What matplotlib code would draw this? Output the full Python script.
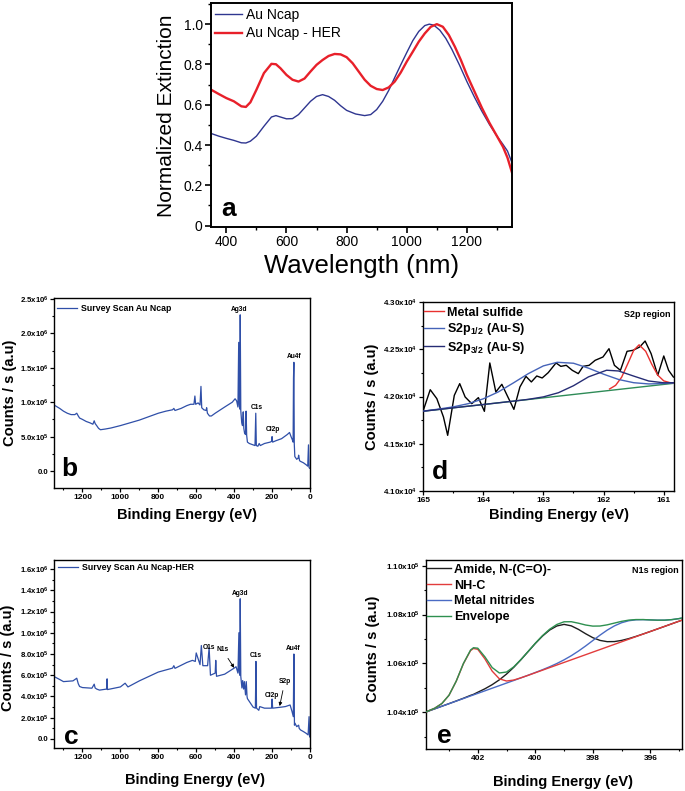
import matplotlib
matplotlib.use('Agg')
import matplotlib.pyplot as plt
from matplotlib.ticker import MultipleLocator
import numpy as np

plt.rcParams['font.family'] = ['Liberation Sans', 'DejaVu Sans']
plt.rcParams['mathtext.fontset'] = 'custom'
plt.rcParams['mathtext.rm'] = 'Liberation Sans:bold'
plt.rcParams['mathtext.it'] = 'Liberation Sans:bold'
plt.rcParams['mathtext.bf'] = 'Liberation Sans:bold'
plt.rcParams['mathtext.default'] = 'rm'

# ---------------- Panel a: extinction spectra ----------------
wl_ncap = [350, 375, 400, 425, 450, 465, 480, 500, 525, 550, 565, 580, 600, 620, 640, 660, 680, 700,
           720, 740, 760, 780, 800, 830, 860, 880, 900, 920, 940, 960, 980, 1000, 1020, 1040, 1060,
           1075, 1090, 1110, 1130, 1150, 1175, 1200, 1225, 1250, 1275, 1300, 1320, 1335, 1350]
ext_ncap = [0.457, 0.444, 0.433, 0.423, 0.411, 0.410, 0.419, 0.444, 0.493, 0.539, 0.546, 0.539, 0.530,
            0.531, 0.551, 0.584, 0.617, 0.641, 0.650, 0.641, 0.622, 0.595, 0.572, 0.554, 0.546, 0.551,
            0.576, 0.617, 0.671, 0.735, 0.798, 0.859, 0.918, 0.964, 0.993, 1.000, 0.995, 0.970, 0.929,
            0.875, 0.798, 0.715, 0.638, 0.567, 0.502, 0.444, 0.403, 0.370, 0.312]
wl_her = [350, 375, 400, 425, 450, 465, 480, 500, 525, 550, 565, 580, 600, 620, 640, 660, 680, 700,
          720, 740, 760, 780, 800, 820, 840, 860, 880, 900, 920, 940, 960, 980, 1000, 1020, 1040,
          1060, 1080, 1100, 1120, 1140, 1160, 1180, 1200, 1225, 1250, 1275, 1300, 1320, 1335, 1350]
ext_her = [0.674, 0.653, 0.633, 0.617, 0.592, 0.589, 0.612, 0.674, 0.757, 0.803, 0.801, 0.781, 0.748,
           0.724, 0.715, 0.730, 0.765, 0.798, 0.822, 0.842, 0.852, 0.850, 0.836, 0.806, 0.765, 0.724,
           0.694, 0.678, 0.673, 0.686, 0.715, 0.760, 0.814, 0.863, 0.913, 0.954, 0.987, 1.000, 0.987,
           0.946, 0.888, 0.822, 0.748, 0.666, 0.584, 0.510, 0.444, 0.391, 0.337, 0.263]
a_xticks = [400, 600, 800, 1000, 1200]
a_yticks = [0, 0.2, 0.4, 0.6, 0.8, 1.0]
a_ylabels = ['0', '0.2', '0.4', '0.6', '0.8', '1.0']

# ---------------- Panel b: survey scan Au Ncap (counts in 1e6) ----------------
be_b = [1350, 1320, 1300, 1280, 1260, 1240, 1230, 1222, 1215, 1200, 1180, 1160, 1145, 1138, 1133, 1125,
        1115, 1105, 1080, 1050, 1000, 950, 900, 850, 800, 760, 725, 718, 712, 680, 650, 630, 612, 607,
        603, 590, 580, 575, 571, 560, 548, 545, 541, 530, 520, 500, 450, 410, 395, 387, 380, 376, 373,
        370, 368, 365, 360, 356, 352, 349, 345, 340, 337, 334, 330, 320, 300, 290, 286, 283, 275, 268,
        262, 240, 210, 203, 200, 197, 180, 150, 120, 108, 100, 94, 89, 87, 85, 83, 80, 70, 62, 60, 55,
        50, 35, 20, 12, 8, 5, 2]
cts_b = [0.96, 0.91, 0.87, 0.84, 0.82, 0.82, 0.84, 0.80, 0.77, 0.75, 0.72, 0.70, 0.68, 0.73, 0.69, 0.66,
         0.62, 0.60, 0.61, 0.625, 0.66, 0.70, 0.74, 0.79, 0.84, 0.87, 0.89, 0.91, 0.88, 0.91, 0.95, 0.97,
         0.97, 1.09, 0.97, 0.99, 0.96, 1.23, 0.92, 0.89, 0.88, 0.92, 0.84, 0.80, 0.80, 0.84, 0.93, 1.00,
         1.05, 1.02, 0.93, 1.87, 0.97, 0.90, 2.27, 0.88, 0.70, 0.66, 0.86, 0.62, 0.55, 0.53, 0.87, 0.52,
         0.42, 0.40, 0.38, 0.37, 0.84, 0.37, 0.36, 0.40, 0.37, 0.40, 0.42, 0.43, 0.50, 0.42, 0.44, 0.47,
         0.53, 0.56, 0.50, 0.46, 0.42, 1.35, 1.58, 0.40, 0.21, 0.17, 0.19, 0.23, 0.15, 0.14, 0.12, 0.09,
         0.07, 0.38, 0.05, 0.04]
b_yticks = [0.0, 0.5, 1.0, 1.5, 2.0, 2.5]
b_ylabels = ['0.0', '5.0x10$^{5}$', '1.0x10$^{6}$', '1.5x10$^{6}$', '2.0x10$^{6}$', '2.5x10$^{6}$']
b_peaks = ['Ag3d', 'C1s', 'Cl2p', 'Au4f']
b_peak_pos = [(373, 2.35), (278, 0.92), (193, 0.60), (81, 1.67)]

# ---------------- Panel c: survey scan Au Ncap-HER (counts in 1e6) ----------------
be_c = [1350, 1320, 1300, 1250, 1230, 1222, 1215, 1200, 1150, 1138, 1133, 1125, 1110, 1072, 1070, 1068,
        1000, 975, 960, 900, 800, 725, 718, 712, 650, 620, 605, 600, 580, 573, 565, 540, 532, 525, 500,
        497, 493, 450, 400, 390, 380, 375, 373, 370, 368, 365, 359, 355, 350, 346, 340, 336, 332, 330,
        300, 288, 285, 282, 270, 265, 240, 203, 200, 197, 150, 130, 105, 95, 88, 85, 82, 80, 70, 60, 57,
        50, 35, 20, 10, 5, 2]
cts_c = [0.588, 0.56, 0.54, 0.547, 0.572, 0.52, 0.494, 0.484, 0.478, 0.516, 0.48, 0.47, 0.46, 0.47, 0.566,
         0.465, 0.49, 0.525, 0.49, 0.547, 0.63, 0.667, 0.69, 0.665, 0.72, 0.74, 0.73, 0.81, 0.70, 0.88,
         0.69, 0.69, 0.86, 0.60, 0.62, 0.74, 0.59, 0.61, 0.667, 0.68, 0.62, 1.00, 0.64, 0.60, 1.32, 0.59,
         0.48, 0.55, 0.47, 0.54, 0.415, 0.54, 0.40, 0.38, 0.30, 0.29, 0.73, 0.29, 0.27, 0.305, 0.29, 0.29,
         0.376, 0.29, 0.30, 0.305, 0.32, 0.26, 0.21, 0.80, 0.13, 0.15, 0.116, 0.13, 0.10, 0.085, 0.07,
         0.053, 0.038, 0.21, 0.02]
c_yticks = [0.0, 0.2, 0.4, 0.6, 0.8, 1.0, 1.2, 1.4, 1.6]
c_ylabels = ['0.0', '2.0x10$^{5}$', '4.0x10$^{5}$', '6.0x10$^{5}$', '8.0x10$^{5}$', '1.0x10$^{6}$',
             '1.2x10$^{6}$', '1.4x10$^{6}$', '1.6x10$^{6}$']
c_peaks = ['O1s', 'Ag3d', 'C1s', 'Cl2p', 'Au4f']
c_peak_pos = [(532, 0.86), (368, 1.37), (285, 0.79), (200, 0.41), (88, 0.85)]

# ---------------- Panel d: S2p region ----------------
be_d = [165.00, 164.88, 164.77, 164.66, 164.59, 164.48, 164.39, 164.30, 164.19, 164.08, 163.98, 163.89,
        163.79, 163.69, 163.59, 163.49, 163.39, 163.29, 163.20, 163.11, 163.02, 162.92, 162.79, 162.71,
        162.62, 162.52, 162.42, 162.34, 162.24, 162.14, 162.01, 161.91, 161.82, 161.72, 161.61, 161.51,
        161.40, 161.31, 161.21, 161.10, 161.00, 160.92, 160.84]
cts_d = [41843, 42072, 41977, 41783, 41589, 42012, 42136, 41995, 41924, 41988, 41843, 42355, 42048, 42129,
         41995, 41864, 42101, 42213, 42154, 42217, 42196, 42252, 42355, 42319, 42330, 42277, 42242, 42319,
         42330, 42383, 42418, 42506, 42330, 42277, 42478, 42489, 42524, 42587, 42453, 42224, 42429, 42277,
         42206]
be_d_base = [165.0, 160.83]
cts_d_base = [41844, 42140]
be_d_fit = [165.0, 164.75, 164.5, 164.25, 164.0, 163.75, 163.5, 163.25, 163.0, 162.77, 162.5, 162.25,
            162.0, 161.75, 161.5, 161.25, 161.0, 160.83]
cts_s2p12 = [41845, 41866, 41890, 41924, 41975, 42048, 42143, 42242, 42324, 42362, 42352, 42300, 42236,
             42180, 42146, 42133, 42137, 42144]
be_d_fit2 = [165.0, 164.5, 164.0, 163.5, 163.25, 163.0, 162.75, 162.5, 162.25, 161.95, 161.75, 161.5,
             161.25, 161.0, 160.83]
cts_s2p32 = [41844, 41880, 41915, 41951, 41970, 41996, 42040, 42114, 42208, 42278, 42270, 42216, 42164,
             42145, 42146]
be_d_sulf = [161.9, 161.8, 161.7, 161.6, 161.5, 161.41, 161.3, 161.2, 161.1, 161.0, 160.9, 160.83]
cts_sulf = [42080, 42118, 42204, 42344, 42488, 42547, 42478, 42342, 42226, 42165, 42147, 42143]
d_yticks = [41000, 41500, 42000, 42500, 43000]
d_ylabels = ['4.10x10$^{4}$', '4.15x10$^{4}$', '4.20x10$^{4}$', '4.25x10$^{4}$', '4.30x10$^{4}$']
d_xticks = [165, 164, 163, 162, 161]

# ---------------- Panel e: N1s region ----------------
be_e = [403.78, 403.5, 403.25, 403.0, 402.75, 402.5, 402.25, 402.15, 402.0, 401.75, 401.5, 401.25, 401.0,
        400.75, 400.5, 400.25, 400.0, 399.75, 399.5, 399.25, 399.0, 398.75, 398.5, 398.25, 398.0, 397.75,
        397.5, 397.25, 397.0, 396.75, 396.5, 396.25, 396.0, 395.75, 395.5, 395.25, 395.0, 394.9]
cts_envelope = [104028, 104167, 104358, 104700, 105275, 105997, 106550, 106642, 106623, 106266, 105831,
                105609, 105648, 105859, 106157, 106488, 106825, 107137, 107400, 107594, 107703, 107706,
                107645, 107571, 107526, 107530, 107578, 107650, 107721, 107771, 107794, 107794, 107780,
                107769, 107770, 107792, 107834, 107856]
cts_amide = [104024, 104142, 104249, 104355, 104464, 104575, 104694, 104734, 104821, 104964, 105131,
             105329, 105565, 105840, 106152, 106484, 106816, 107119, 107366, 107532, 107597, 107537,
             107392, 107214, 107053, 106941, 106890, 106894, 106941, 107015, 107106, 107205, 107307,
             107412, 107517, 107623, 107728, 107770]
cts_nitride = [104024, 104142, 104248, 104353, 104459, 104564, 104670, 104712, 104775, 104880, 104986,
               105091, 105197, 105302, 105410, 105517, 105628, 105742, 105864, 105997, 106147, 106315,
               106505, 106714, 106936, 107157, 107362, 107535, 107665, 107746, 107784, 107790, 107779,
               107769, 107770, 107792, 107834, 107856]
cts_nhc = [104028, 104167, 104357, 104698, 105270, 105986, 106526, 106612, 106577, 106182, 105686,
           105371, 105280, 105320, 105411, 105513, 105619, 105724, 105830, 105935, 106041, 106146,
           106252, 106357, 106463, 106568, 106674, 106779, 106885, 106990, 107096, 107201, 107306,
           107412, 107517, 107623, 107728, 107770]
e_yticks = [104000, 106000, 108000, 110000]
e_ylabels = ['1.04x10$^{5}$', '1.06x10$^{5}$', '1.08x10$^{5}$', '1.10x10$^{5}$']
e_xticks = [402, 400, 398, 396]

W, H = 685, 791
fig = plt.figure(figsize=(W / 100, H / 100), dpi=100)


def ax_px(l, t, r, b):
    return fig.add_axes([l / W, 1 - b / H, (r - l) / W, (b - t) / H])


def style_xps(ax, lw=1.0, ysize=5.6):
    for s in ax.spines.values():
        s.set_linewidth(lw)
    ax.tick_params(which='major', direction='out', length=3, width=0.9, labelsize=6.0, pad=1.5)
    ax.tick_params(axis='y', which='major', labelsize=ysize, pad=1.2)
    ax.tick_params(which='minor', direction='out', length=1.6, width=0.8)
    for lab in ax.get_xticklabels() + ax.get_yticklabels():
        lab.set_fontweight('bold')


# ---- a ----
axa = ax_px(211, 3, 512, 227)
axa.plot(wl_ncap, ext_ncap, color='#2f3690', lw=1.0, label='Au Ncap')
axa.plot(wl_her, ext_her, color='#e8202a', lw=1.7, label='Au Ncap - HER')
axa.set_xlim(349, 1350)
axa.set_ylim(-0.007, 1.105)
axa.set_xticks(a_xticks)
axa.xaxis.set_minor_locator(MultipleLocator(100))
axa.set_yticks(a_yticks)
axa.set_yticklabels(a_ylabels)
axa.yaxis.set_minor_locator(MultipleLocator(0.1))
for s in axa.spines.values():
    s.set_linewidth(1.4)
axa.tick_params(which='major', direction='out', length=4, width=1.2, labelsize=10, pad=2)
axa.tick_params(which='minor', direction='out', length=2.5, width=1.0)
axa.legend(loc='upper left', bbox_to_anchor=(0.0, 0.995), frameon=False, fontsize=10,
           handlelength=1.9, handletextpad=0.35, labelspacing=0.3, borderpad=0.2, borderaxespad=0.1)
axa.text(0.058, 0.08, 'a', transform=axa.transAxes, fontsize=19, fontweight='bold',
         ha='center', va='center')
axa.text(0.5, -0.175, 'Wavelength (nm)', transform=axa.transAxes, fontsize=18.5,
         ha='center', va='center')
axa.text(-0.148, 0.495, 'Normalized Extinction', transform=axa.transAxes, fontsize=15,
         ha='center', va='center', rotation=90)

survey_color = '#2f4fa8'

# ---- b ----
axb = ax_px(54, 298, 310, 488)
axb.plot(be_b, cts_b, color=survey_color, lw=0.9, label='Survey Scan Au Ncap')
axb.set_xlim(1350, 0)
axb.set_ylim(-0.247, 2.515)
axb.set_xticks([1200, 1000, 800, 600, 400, 200, 0])
axb.xaxis.set_minor_locator(MultipleLocator(100))
axb.set_yticks(b_yticks)
axb.set_yticklabels(b_ylabels)
axb.yaxis.set_minor_locator(MultipleLocator(0.25))
style_xps(axb)
axb.legend(loc='center left', bbox_to_anchor=(0.012, 0.946), frameon=False,
           prop={'size': 6.3, 'weight': 'bold'}, handlelength=2.3, handletextpad=0.4,
           borderpad=0, borderaxespad=0)
for name, (xx, yy) in zip(b_peaks, b_peak_pos):
    axb.text(xx, yy, name, fontsize=4.8, fontweight='bold', ha='center', va='center')
axb.text(0.06, 0.1, 'b', transform=axb.transAxes, fontsize=19, fontweight='bold',
         ha='center', va='center')
axb.text(0.52, -0.142, 'Binding Energy (eV)', transform=axb.transAxes, fontsize=10.5,
         fontweight='bold', ha='center', va='center')
axb.text(-0.17, 0.5, 'Counts / s (a.u)', transform=axb.transAxes, fontsize=10.6,
         fontweight='bold', ha='center', va='center', rotation=90)

# ---- c ----
axc = ax_px(54, 560, 310, 748)
axc.plot(be_c, cts_c, color=survey_color, lw=0.9, label='Survey Scan Au Ncap-HER')
axc.set_xlim(1350, 0)
axc.set_ylim(-0.085, 1.685)
axc.set_xticks([1200, 1000, 800, 600, 400, 200, 0])
axc.xaxis.set_minor_locator(MultipleLocator(100))
axc.set_yticks(c_yticks)
axc.set_yticklabels(c_ylabels)
axc.yaxis.set_minor_locator(MultipleLocator(0.1))
style_xps(axc)
axc.legend(loc='center left', bbox_to_anchor=(0.017, 0.96), frameon=False,
           prop={'size': 6.3, 'weight': 'bold'}, handlelength=2.3, handletextpad=0.4,
           borderpad=0, borderaxespad=0)
for name, (xx, yy) in zip(c_peaks, c_peak_pos):
    axc.text(xx, yy, name, fontsize=4.8, fontweight='bold', ha='center', va='center')
axc.annotate('N1s', xy=(400, 0.67), xytext=(462, 0.84), fontsize=4.8, fontweight='bold',
             ha='center', va='center',
             arrowprops=dict(arrowstyle='-|>', lw=0.6, color='black', mutation_scale=5,
                             shrinkA=2, shrinkB=0))
axc.annotate('S2p', xy=(160, 0.31), xytext=(133, 0.54), fontsize=4.8, fontweight='bold',
             ha='center', va='center',
             arrowprops=dict(arrowstyle='-|>', lw=0.6, color='black', mutation_scale=5,
                             shrinkA=2, shrinkB=0))
axc.text(0.069, 0.061, 'c', transform=axc.transAxes, fontsize=19, fontweight='bold',
         ha='center', va='center')
axc.text(0.55, -0.17, 'Binding Energy (eV)', transform=axc.transAxes, fontsize=10.5,
         fontweight='bold', ha='center', va='center')
axc.text(-0.18, 0.48, 'Counts / s (a.u)', transform=axc.transAxes, fontsize=10.6,
         fontweight='bold', ha='center', va='center', rotation=90)

# ---- d ----
axd = ax_px(423, 302, 674, 491)
axd.plot(be_d_base, cts_d_base, color='#2e8b57', lw=1.0, zorder=1)
axd.plot(be_d, cts_d, color='black', lw=1.0, zorder=2)
l1, = axd.plot(be_d_sulf, cts_sulf, color='#e8312f', lw=1.0, zorder=3)
l2, = axd.plot(be_d_fit, cts_s2p12, color='#4563b8', lw=1.0, zorder=3)
l3, = axd.plot(be_d_fit2, cts_s2p32, color='#262c74', lw=1.0, zorder=3)
axd.set_xlim(165, 160.83)
axd.set_ylim(41000, 43000)
axd.set_xticks(d_xticks)
axd.xaxis.set_minor_locator(MultipleLocator(0.5))
axd.set_yticks(d_yticks)
axd.set_yticklabels(d_ylabels)
axd.yaxis.set_minor_locator(MultipleLocator(250))
style_xps(axd, ysize=5.8)
axd.legend([l1, l2, l3], ['Metal sulfide', 'S2p$_{1/2}$ (Au-S)', 'S2p$_{3/2}$ (Au-S)'],
           loc='upper left', bbox_to_anchor=(0.004, 0.975), frameon=False,
           prop={'size': 9, 'weight': 'bold'}, handlelength=1.6, handletextpad=0.25,
           labelspacing=0.2, borderpad=0, borderaxespad=0)
axd.text(0.985, 0.935, 'S2p region', transform=axd.transAxes, fontsize=6.5, fontweight='bold',
         ha='right', va='center')
axd.text(0.068, 0.103, 'd', transform=axd.transAxes, fontsize=19, fontweight='bold',
         ha='center', va='center')
axd.text(0.54, -0.127, 'Binding Energy (eV)', transform=axd.transAxes, fontsize=10.5,
         fontweight='bold', ha='center', va='center')
axd.text(-0.204, 0.5, 'Counts / s (a.u)', transform=axd.transAxes, fontsize=10.6,
         fontweight='bold', ha='center', va='center', rotation=90)

# ---- e ----
axe = ax_px(426, 560, 682, 749)
k1, = axe.plot(be_e, cts_amide, color='#1e1e1e', lw=1.0, zorder=1)
k3, = axe.plot(be_e, cts_nitride, color='#4a6bc4', lw=1.0, zorder=2)
k2, = axe.plot(be_e, cts_nhc, color='#e23c3c', lw=1.0, zorder=3)
k4, = axe.plot(be_e, cts_envelope, color='#2e9050', lw=1.0, zorder=4)
axe.set_xlim(403.8, 394.9)
axe.set_ylim(102500, 110230)
axe.set_xticks(e_xticks)
axe.xaxis.set_minor_locator(MultipleLocator(1))
axe.set_yticks(e_yticks)
axe.set_yticklabels(e_ylabels)
axe.yaxis.set_minor_locator(MultipleLocator(1000))
style_xps(axe, ysize=5.8)
axe.legend([k1, k2, k3, k4], ['Amide, N-(C=O)-', 'NH-C', 'Metal nitrides', 'Envelope'],
           loc='upper left', bbox_to_anchor=(0.003, 0.98), frameon=False,
           prop={'size': 9, 'weight': 'bold'}, handlelength=1.9, handletextpad=0.25,
           labelspacing=0.3, borderpad=0, borderaxespad=0)
axe.text(0.985, 0.945, 'N1s region', transform=axe.transAxes, fontsize=6.5, fontweight='bold',
         ha='right', va='center')
axe.text(0.073, 0.071, 'e', transform=axe.transAxes, fontsize=19, fontweight='bold',
         ha='center', va='center')
axe.text(0.535, -0.175, 'Binding Energy (eV)', transform=axe.transAxes, fontsize=10.5,
         fontweight='bold', ha='center', va='center')
axe.text(-0.207, 0.53, 'Counts / s (a.u)', transform=axe.transAxes, fontsize=10.6,
         fontweight='bold', ha='center', va='center', rotation=90)

fig.savefig('out.png', dpi=100)
